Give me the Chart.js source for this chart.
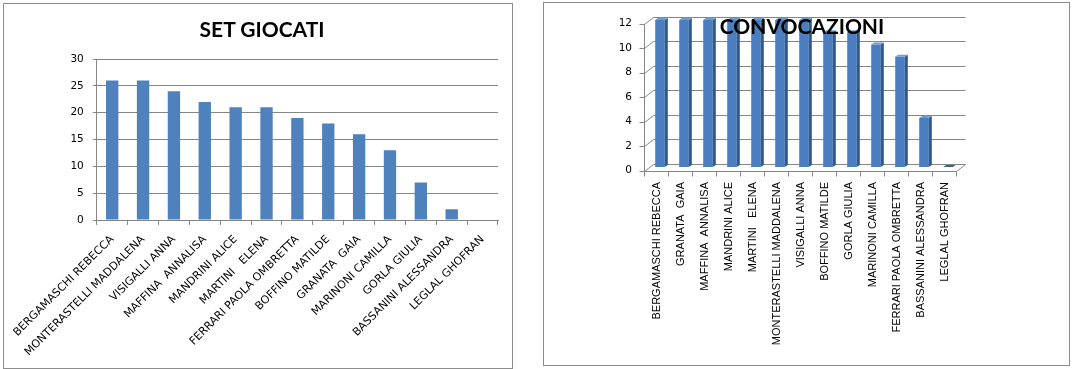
<!DOCTYPE html>
<html>
<head>
<meta charset="utf-8">
<script src="https://cdn.jsdelivr.net/npm/chart.js@4.4.1/dist/chart.umd.min.js"></script>
<style>
  html, body { margin: 0; padding: 0; background: #fff; width: 1073px; height: 369px; overflow: hidden; }
  .panel { position: absolute; border: 1px solid #8c8c8c; background: #fff; }
  #p1 { left: 3px; top: 3px; width: 508px; height: 364px; }
  #p2 { left: 543px; top: 2px; width: 525px; height: 362px; }
  canvas { display: block; position: absolute; left: 0; top: 0; }
  .title { position: absolute; font-family: Lato, "Open Sans", sans-serif; font-weight: bold; font-size: 21px; color: #000; white-space: nowrap; transform: translate(-50%, -50%); line-height: 1; }
  #t1 { left: 258px; top: 24px; }
  #t2 { left: 258px; top: 22px; z-index: 2; }
</style>
</head>
<body>
<div class="panel" id="p1">
  <canvas id="c1" width="508" height="364"></canvas>
  <div class="title" id="t1">SET GIOCATI</div>
</div>
<div class="panel" id="p2">
  <canvas id="c2" width="525" height="362"></canvas>
  <div class="title" id="t2">CONVOCAZIONI</div>
</div>
<script>
// --- dati ---
const setPlayers = ["BERGAMASCHI REBECCA", "MONTERASTELLI MADDALENA", "VISIGALLI ANNA", "MAFFINA  ANNALISA",
  "MANDRINI ALICE", "MARTINI   ELENA", "FERRARI PAOLA OMBRETTA", "BOFFINO MATILDE", "GRANATA  GAIA",
  "MARINONI CAMILLA", "GORLA GIULIA", "BASSANINI ALESSANDRA", "LEGLAL GHOFRAN"];
const setValues = [26, 26, 24, 22, 21, 21, 19, 18, 16, 13, 7, 2, 0];
const setTicks = [0, 5, 10, 15, 20, 25, 30];

const convPlayers = ["BERGAMASCHI REBECCA", "GRANATA  GAIA", "MAFFINA  ANNALISA", "MANDRINI ALICE",
  "MARTINI   ELENA", "MONTERASTELLI MADDALENA", "VISIGALLI ANNA", "BOFFINO MATILDE", "GORLA GIULIA",
  "MARINONI CAMILLA", "FERRARI PAOLA OMBRETTA", "BASSANINI ALESSANDRA", "LEGLAL GHOFRAN"];
const convValues = [12, 12, 12, 12, 12, 12, 12, 11, 11, 10, 9, 4, 0];
const convTicks = [0, 2, 4, 6, 8, 10, 12];

const GRID = '#868686';
const BLUE = '#4F81BD';
const tickFont = { family: 'DejaVu Sans', size: 10.5 };

// --- grafico 1: set giocati ---
new Chart(document.getElementById('c1'), {
  type: 'bar',
  data: {
    labels: setPlayers,
    datasets: [{ data: setValues, backgroundColor: BLUE, barPercentage: 0.4, categoryPercentage: 1 }]
  },
  options: {
    responsive: false,
    animation: false,
    layout: { padding: { left: 0, right: 14, top: 55, bottom: 0 } },
    plugins: { legend: { display: false }, tooltip: { enabled: false } },
    scales: {
      x: {
        grid: { offset: true, drawOnChartArea: false, tickLength: 5, color: GRID },
        border: { color: GRID },
        ticks: { autoSkip: false, minRotation: 45, maxRotation: 45, padding: 8,
                 font: { family: 'DejaVu Sans', size: 11 }, color: '#000' },
        afterFit: (s) => { s.height = 148; }
      },
      y: {
        min: 0, max: 30,
        afterBuildTicks: (s) => { s.ticks = setTicks.map(v => ({ value: v })); },
        grid: { color: GRID, tickLength: 4 },
        border: { color: GRID },
        ticks: { padding: 9, font: tickFont, color: '#000' },
        afterFit: (s) => { s.width = 89; }
      }
    }
  }
});

// --- grafico 2: convocazioni (finto 3D) ---
const DEPTH = { x: 9, y: -7 };   // profonditﾃ della "scatola"
const SIDE = { x: 3, y: -2 };    // spessore delle barre

function ln(ctx, x1, y1, x2, y2) {
  ctx.beginPath();
  ctx.moveTo(Math.round(x1) + 0.5, Math.round(y1) + 0.5);
  ctx.lineTo(Math.round(x2) + 0.5, Math.round(y2) + 0.5);
  ctx.stroke();
}

const frame3d = {
  id: 'frame3d',
  beforeDatasetsDraw(chart) {
    const { ctx, chartArea: a, scales: { x, y } } = chart;
    const hx = DEPTH.x / 2, hy = DEPTH.y / 2;
    const fl = a.left - hx, fr = a.right - hx;   // piano frontale
    const bl = a.left + hx, br = a.right + hx;   // parete di fondo
    ctx.save();
    ctx.strokeStyle = GRID;
    ctx.lineWidth = 1;
    y.ticks.forEach(t => {
      const py = y.getPixelForValue(t.value);
      ln(ctx, bl, py + hy, br, py + hy);
      ln(ctx, fl, py - hy, bl, py + hy);
      ln(ctx, fl - 5, py - hy, fl, py - hy);
    });
    const y0 = y.getPixelForValue(0), yTop = y.getPixelForValue(y.max);
    ln(ctx, fl, yTop - hy, fl, y0 - hy);
    ln(ctx, fl, y0 - hy, fr, y0 - hy);
    ln(ctx, fr, y0 - hy, br, y0 + hy);
    const cw = (a.right - a.left) / convValues.length;
    for (let i = 0; i <= convValues.length; i++) {
      const px = x.getPixelForValue(0) - cw / 2 + i * cw - hx;
      ln(ctx, px, y0 - hy, px, y0 - hy + 5);
    }
    ctx.restore();
  },
  afterDatasetsDraw(chart) {
    const { ctx } = chart;
    ctx.save();
    chart.getDatasetMeta(0).data.forEach(bar => {
      const { x, y, base, width } = bar.getProps(['x', 'y', 'base', 'width'], true);
      const xl = x - width / 2, xr = x + width / 2;
      // lato destro
      ctx.fillStyle = '#2E5A8F';
      ctx.beginPath();
      ctx.moveTo(xr, y); ctx.lineTo(xr + SIDE.x, y + SIDE.y);
      ctx.lineTo(xr + SIDE.x, base + SIDE.y); ctx.lineTo(xr, base);
      ctx.closePath(); ctx.fill();
      // cima
      ctx.fillStyle = y === base ? '#3A659C' : '#6F9BD3';
      ctx.beginPath();
      ctx.moveTo(xl, y); ctx.lineTo(xl + SIDE.x, y + SIDE.y);
      ctx.lineTo(xr + SIDE.x, y + SIDE.y); ctx.lineTo(xr, y);
      ctx.closePath(); ctx.fill();
    });
    ctx.restore();
  }
};

new Chart(document.getElementById('c2'), {
  type: 'bar',
  data: {
    labels: convPlayers,
    datasets: [{
      data: convValues,
      backgroundColor: (c) => {
        const area = c.chart.chartArea;
        const el = c.element;
        if (!area || !el || el.width === undefined) return '#4A7EBE';
        const g = c.chart.ctx.createLinearGradient(el.x - el.width / 2, 0, el.x + el.width / 2, 0);
        g.addColorStop(0, '#3F70AE');
        g.addColorStop(0.45, '#5A8CCB');
        g.addColorStop(1, '#4677B6');
        return g;
      },
      barPercentage: 0.4, categoryPercentage: 1
    }]
  },
  options: {
    responsive: false,
    animation: false,
    layout: { padding: { left: 0, right: 109, top: 17, bottom: 0 } },
    plugins: { legend: { display: false }, tooltip: { enabled: false } },
    scales: {
      x: {
        grid: { display: false, drawTicks: false },
        border: { display: false },
        ticks: { autoSkip: false, minRotation: 90, maxRotation: 90, padding: 15, labelOffset: -3,
                 font: { family: 'Liberation Sans', size: 11 }, color: '#000' },
        afterFit: (s) => { s.height = 198; }
      },
      y: {
        min: 0, max: 12,
        afterBuildTicks: (s) => { s.ticks = convTicks.map(v => ({ value: v })); },
        grid: { display: false, drawTicks: false },
        border: { display: false },
        ticks: { padding: 16, labelOffset: 3.5, font: tickFont, color: '#000' },
        afterFit: (s) => { s.width = 104; s.paddingTop = 0; s.paddingBottom = 0; }
      }
    }
  },
  plugins: [frame3d]
});
</script>
</body>
</html>
